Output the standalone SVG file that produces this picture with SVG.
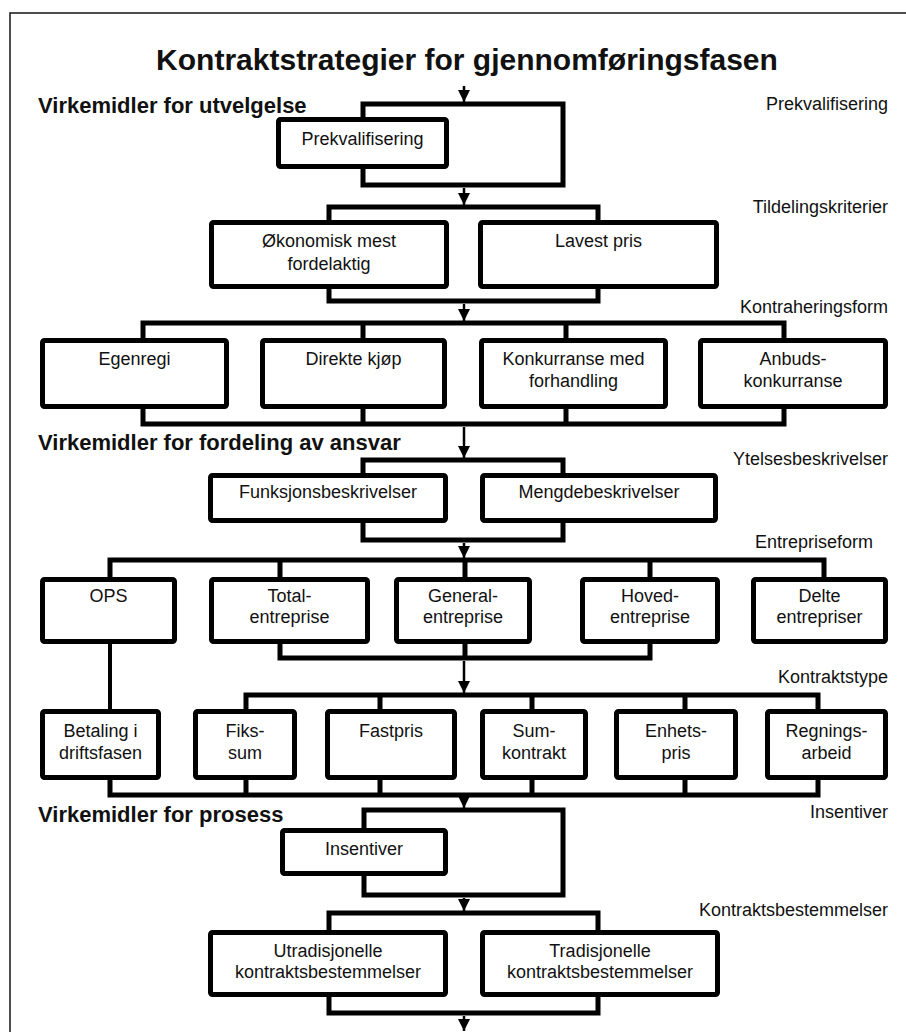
<svg xmlns="http://www.w3.org/2000/svg" width="906" height="1032" viewBox="0 0 906 1032">
  <defs>
    <marker id="ah" viewBox="0 0 12 12" refX="12" refY="6" markerWidth="12" markerHeight="12" markerUnits="userSpaceOnUse" orient="auto">
      <path d="M0,0 L12,6 L0,12 z" fill="#000"/>
    </marker>
    <style>
      .frame { fill: none; stroke: #222; stroke-width: 1.6; }
      .box { fill: #fff; stroke: #000; stroke-width: 5; }
      .wire { fill: none; stroke: #000; stroke-width: 5; stroke-linejoin: miter; stroke-linecap: square; }
      .thin { fill: none; stroke: #000; stroke-width: 4; }
      .arrow { fill: none; stroke: #000; stroke-width: 2.5; marker-end: url(#ah); }
      text { font-family: "Liberation Sans", Arial, sans-serif; fill: #111; }
      .t { font-size: 18px; text-anchor: middle; }
      .side { font-size: 18px; text-anchor: end; }
      .head { font-size: 22px; font-weight: bold; }
      .title { font-size: 30px; font-weight: bold; text-anchor: middle; }
    </style>
  </defs>

  <rect class="frame" x="10" y="13" width="910" height="1040"/>

  <text class="title" x="467" y="70">Kontraktstrategier for gjennomføringsfasen</text>
  <text class="head" x="38" y="113">Virkemidler for utvelgelse</text>
  <text class="head" x="38" y="450">Virkemidler for fordeling av ansvar</text>
  <text class="head" x="38" y="822">Virkemidler for prosess</text>

  <g id="level-labels">
    <text class="side" x="888" y="110">Prekvalifisering</text>
    <text class="side" x="888" y="213">Tildelingskriterier</text>
    <text class="side" x="888" y="313">Kontraheringsform</text>
    <text class="side" x="888" y="465">Ytelsesbeskrivelser</text>
    <text class="side" x="873" y="548">Entrepriseform</text>
    <text class="side" x="888" y="683">Kontraktstype</text>
    <text class="side" x="888" y="818">Insentiver</text>
    <text class="side" x="888" y="916">Kontraktsbestemmelser</text>
  </g>

  <g id="connectors">
    <!-- Prekvalifisering bypass -->
    <path class="wire" d="M363,118 V104 H563 V185 H363 V168"/>
    <!-- Tildelingskriterier -->
    <path class="wire" d="M329,221 V207 H598 V221"/>
    <path class="wire" d="M329,288 V301 H598 V288"/>
    <!-- Kontraheringsform -->
    <path class="wire" d="M143,339 V323 H784 V339 M363,323 V339 M566,323 V339"/>
    <path class="wire" d="M143,408 V424 H784 V408 M363,424 V408 M566,424 V408"/>
    <!-- Ytelsesbeskrivelser -->
    <path class="wire" d="M363,474 V460 H563 V474"/>
    <path class="wire" d="M363,522 V540 H563 V522"/>
    <!-- Entrepriseform -->
    <path class="wire" d="M110,578 V560 H824 V578 M280,560 V578 M465,560 V578 M650,560 V578"/>
    <path class="wire" d="M280,643 V658 H650 V643 M465,658 V643"/>
    <path class="thin" d="M110,644 V710"/>
    <!-- Kontraktstype -->
    <path class="wire" d="M246,710 V695 H818 V710 M380,695 V710 M532,695 V710 M685,695 V710"/>
    <path class="wire" d="M110,779 V795 H818 V779 M246,795 V779 M380,795 V779 M532,795 V779 M685,795 V779"/>
    <!-- Insentiver bypass -->
    <path class="wire" d="M364,829 V810 H563 V895 H364 V875"/>
    <!-- Kontraktsbestemmelser -->
    <path class="wire" d="M329,931 V913 H598 V931"/>
    <path class="wire" d="M329,996 V1013 H598 V996"/>

    <!-- flow arrows down the spine -->
    <line class="arrow" x1="464" y1="86" x2="464" y2="102"/>
    <line class="arrow" x1="464" y1="188" x2="464" y2="205"/>
    <line class="arrow" x1="464" y1="304" x2="464" y2="321"/>
    <line class="arrow" x1="464" y1="427" x2="464" y2="458"/>
    <line class="arrow" x1="464" y1="543" x2="464" y2="558"/>
    <line class="arrow" x1="464" y1="661" x2="464" y2="693"/>
    <line class="arrow" x1="464" y1="798" x2="464" y2="808"/>
    <line class="arrow" x1="464" y1="898" x2="464" y2="911"/>
    <line class="arrow" x1="464" y1="1016" x2="464" y2="1031"/>
  </g>

  <g id="prekvalifisering"><rect class="box" x="278.5" y="119.5" width="168" height="47" rx="2"/><text class="t" x="362.5" y="145">Prekvalifisering</text></g>

  <g id="okonomisk"><rect class="box" x="211.5" y="222.5" width="235" height="64" rx="2"/><text class="t" x="329" y="247">Økonomisk mest</text><text class="t" x="329" y="270">fordelaktig</text></g>
  <g id="lavest-pris"><rect class="box" x="480.5" y="222.5" width="236" height="64" rx="2"/><text class="t" x="598.5" y="247">Lavest pris</text></g>

  <g id="egenregi"><rect class="box" x="42.5" y="340.5" width="184" height="66" rx="2"/><text class="t" x="134.5" y="365">Egenregi</text></g>
  <g id="direkte-kjop"><rect class="box" x="262.5" y="340.5" width="182" height="66" rx="2"/><text class="t" x="353.5" y="365">Direkte kjøp</text></g>
  <g id="konkurranse"><rect class="box" x="481.5" y="340.5" width="184" height="66" rx="2"/><text class="t" x="573.5" y="365">Konkurranse med</text><text class="t" x="573.5" y="387">forhandling</text></g>
  <g id="anbud"><rect class="box" x="700.5" y="340.5" width="185" height="66" rx="2"/><text class="t" x="793" y="365">Anbuds-</text><text class="t" x="793" y="387">konkurranse</text></g>

  <g id="funksjon"><rect class="box" x="210.5" y="475.5" width="235" height="45" rx="2"/><text class="t" x="328" y="498">Funksjonsbeskrivelser</text></g>
  <g id="mengde"><rect class="box" x="482.5" y="475.5" width="233" height="45" rx="2"/><text class="t" x="599" y="498">Mengdebeskrivelser</text></g>

  <g id="ops"><rect class="box" x="42.5" y="579.5" width="132" height="62" rx="2"/><text class="t" x="108.5" y="602">OPS</text></g>
  <g id="total"><rect class="box" x="211.5" y="579.5" width="156" height="62" rx="2"/><text class="t" x="289.5" y="602">Total-</text><text class="t" x="289.5" y="623">entreprise</text></g>
  <g id="general"><rect class="box" x="396.5" y="579.5" width="133" height="62" rx="2"/><text class="t" x="463" y="602">General-</text><text class="t" x="463" y="623">entreprise</text></g>
  <g id="hoved"><rect class="box" x="582.5" y="579.5" width="135" height="62" rx="2"/><text class="t" x="650" y="602">Hoved-</text><text class="t" x="650" y="623">entreprise</text></g>
  <g id="delte"><rect class="box" x="753.5" y="579.5" width="132" height="62" rx="2"/><text class="t" x="819.5" y="602">Delte</text><text class="t" x="819.5" y="623">entrepriser</text></g>

  <g id="betaling"><rect class="box" x="42.5" y="711.5" width="116" height="66" rx="2"/><text class="t" x="100.5" y="737">Betaling i</text><text class="t" x="100.5" y="759">driftsfasen</text></g>
  <g id="fiks"><rect class="box" x="195.5" y="711.5" width="99" height="66" rx="2"/><text class="t" x="245" y="737">Fiks-</text><text class="t" x="245" y="759">sum</text></g>
  <g id="fastpris"><rect class="box" x="327.5" y="711.5" width="127" height="66" rx="2"/><text class="t" x="391" y="737">Fastpris</text></g>
  <g id="sum"><rect class="box" x="482.5" y="711.5" width="103" height="66" rx="2"/><text class="t" x="534" y="737">Sum-</text><text class="t" x="534" y="759">kontrakt</text></g>
  <g id="enhet"><rect class="box" x="616.5" y="711.5" width="119" height="66" rx="2"/><text class="t" x="676" y="737">Enhets-</text><text class="t" x="676" y="759">pris</text></g>
  <g id="regning"><rect class="box" x="767.5" y="711.5" width="118" height="66" rx="2"/><text class="t" x="826.5" y="737">Regnings-</text><text class="t" x="826.5" y="759">arbeid</text></g>

  <g id="insentiver"><rect class="box" x="282.5" y="830.5" width="163" height="43" rx="2"/><text class="t" x="364" y="855">Insentiver</text></g>

  <g id="utradisjonelle"><rect class="box" x="210.5" y="932.5" width="235" height="62" rx="2"/><text class="t" x="328" y="957">Utradisjonelle</text><text class="t" x="328" y="978">kontraktsbestemmelser</text></g>
  <g id="tradisjonelle"><rect class="box" x="482.5" y="932.5" width="235" height="62" rx="2"/><text class="t" x="600" y="957">Tradisjonelle</text><text class="t" x="600" y="978">kontraktsbestemmelser</text></g>
</svg>
